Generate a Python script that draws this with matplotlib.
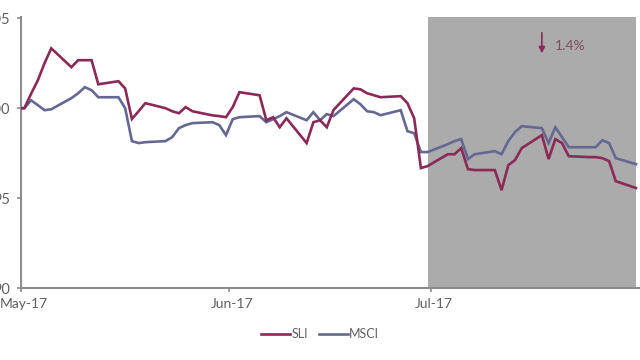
import matplotlib
matplotlib.use("Agg")
import matplotlib.pyplot as plt
import matplotlib.transforms as mtrans
import pandas as pd

# ---- data ----
dates = pd.bdate_range("2017-04-28", "2017-07-31")
sli = [100.0,
       100.0, 100.8, 101.55, 102.5, 103.33, 102.28, 102.67, 102.67, 102.67, 101.33,
       101.5, 101.1, 99.4, 99.83, 100.28, 100.0, 99.83, 99.72, 100.06, 99.83,
       99.6, 99.56, 99.5,
       100.06, 100.89, 100.72, 99.33, 99.5, 98.94, 99.44, 98.06, 99.22, 99.33,
       98.94, 99.9, 101.1, 101.05, 100.83, 100.72, 100.61, 100.67, 100.28, 99.44,
       96.67, 96.78,
       97.44, 97.44, 97.78, 96.61, 96.56, 96.56, 95.44, 96.83, 97.11, 97.78,
       98.5, 97.17, 98.28, 98.06, 97.33, 97.28, 97.28, 97.22, 97.06, 95.94, 95.56]
msci = [100.0,
        100.0, 100.44, 100.17, 99.89, 99.94, 100.56, 100.83, 101.17, 101.0, 100.61,
        100.61, 100.0, 98.17, 98.06, 98.11, 98.17, 98.39, 98.89, 99.06, 99.17,
        99.22, 99.06, 98.5,
        99.39, 99.5, 99.56, 99.22, 99.39, 99.56, 99.78, 99.33, 99.78, 99.33,
        99.67, 99.56, 100.5, 100.22, 99.83, 99.78, 99.61, 99.89, 98.72, 98.61,
        97.56, 97.56,
        98.0, 98.17, 98.28, 97.17, 97.44, 97.61, 97.44, 98.17, 98.67, 99.0,
        98.89, 98.06, 98.94, 98.39, 97.83, 97.83, 97.83, 98.22, 98.06, 97.22, 96.89]
series_names = ["SLI", "MSCI"]
yticks = [90, 95, 100, 105]
month_ticks = ["2017-05-01", "2017-06-01", "2017-07-01"]
month_labels = ["May-17", "Jun-17", "Jul-17"]
shade_start = "2017-06-30"
annotation = "1.4%"
arrow_date = "2017-07-17"
arrow_from, arrow_to = 104.2, 103.05
text_date = "2017-07-19"
text_value = 103.45

assert len(dates) == len(sli) == len(msci)

# ---- style ----
FONT = ["Lato", "DejaVu Sans"]
plt.rcParams["font.family"] = FONT
c_sli = "#8a2a55"
c_msci = "#666893"
c_axis = "#8c8c8c"
c_text = "#606060"

fig = plt.figure(figsize=(6.4, 3.6), dpi=100)
ax = fig.add_axes([21 / 640, 1 - 288 / 360, 1 - 21 / 640, (288 - 16.5) / 360])

noon = pd.Timedelta(hours=12)
x = dates + noon
ax.axvspan(pd.Timestamp(shade_start) + noon, x[-1],
           color="#ababab", zorder=0, lw=0)
ax.plot(x, sli, color=c_sli, lw=1.9, label=series_names[0], zorder=3,
        solid_joinstyle="miter")
ax.plot(x, msci, color=c_msci, lw=1.9, label=series_names[1], zorder=2,
        solid_joinstyle="miter")

ax.set_xlim(pd.Timestamp("2017-05-01"), pd.Timestamp("2017-05-01") + pd.Timedelta(days=92.1))
ax.set_ylim(90, 105.1)

ax.set_yticks(yticks)
ax.set_yticklabels([str(v) for v in yticks])
ax.set_xticks([pd.Timestamp(d) for d in month_ticks])
ax.set_xticklabels(month_labels)

for s in ["top", "right"]:
    ax.spines[s].set_visible(False)
for s in ["left", "bottom"]:
    ax.spines[s].set_color(c_axis)
    ax.spines[s].set_linewidth(1.5)
ax.spines["bottom"].set_zorder(5)

ax.tick_params(axis="y", direction="out", length=3, width=1.2, color=c_axis,
               labelsize=10.5, labelcolor=c_text, pad=4.5)
ax.tick_params(axis="x", direction="out", length=3, width=1.2, color=c_axis,
               labelsize=10, labelcolor=c_text, pad=4)
offset = mtrans.ScaledTranslation(3 / 100, 0, fig.dpi_scale_trans)
for lbl in ax.get_xticklabels():
    lbl.set_horizontalalignment("center")
    lbl.set_transform(lbl.get_transform() + offset)

# annotation arrow and text
ax.annotate("", xy=(pd.Timestamp(arrow_date) + noon, arrow_to),
            xytext=(pd.Timestamp(arrow_date) + noon, arrow_from),
            arrowprops=dict(arrowstyle="-|>", color=c_sli, lw=1.2,
                            mutation_scale=9, shrinkA=0, shrinkB=0))
ax.text(pd.Timestamp(text_date) + noon, text_value, annotation, color="#7a5060",
        fontsize=10, va="center", ha="left")

leg = fig.legend(loc="center", bbox_to_anchor=(320 / 640, 1 - 334 / 360),
                 ncol=2, frameon=False, fontsize=9, handlelength=2.3,
                 handletextpad=0.1, columnspacing=0.9, labelcolor=c_text)

fig.savefig("out.png", dpi=100)
